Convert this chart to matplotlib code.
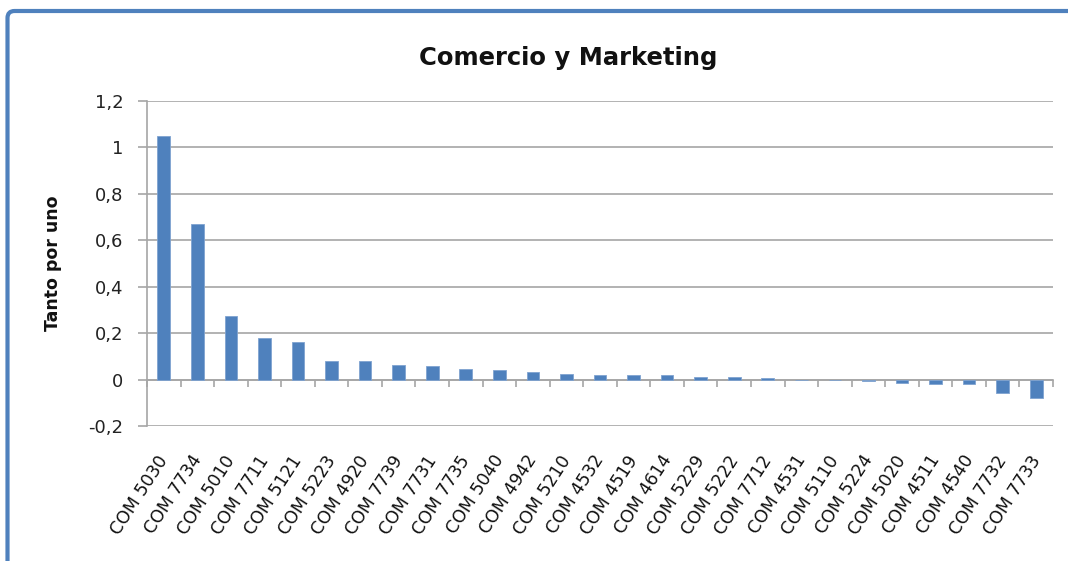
import matplotlib
matplotlib.use("Agg")
import matplotlib.pyplot as plt
from matplotlib.path import Path
from matplotlib.patches import PathPatch
from matplotlib.transforms import ScaledTranslation
import numpy as np

plt.rcParams['font.family'] = ['DejaVu Sans']

title = "Comercio y Marketing"
ylabel = "Tanto por uno"
categories = ["COM 5030", "COM 7734", "COM 5010", "COM 7711", "COM 5121", "COM 5223",
              "COM 4920", "COM 7739", "COM 7731", "COM 7735", "COM 5040", "COM 4942",
              "COM 5210", "COM 4532", "COM 4519", "COM 4614", "COM 5229", "COM 5222",
              "COM 7712", "COM 4531", "COM 5110", "COM 5224", "COM 5020", "COM 4511",
              "COM 4540", "COM 7732", "COM 7733"]
values = [1.049, 0.671, 0.275, 0.178, 0.162, 0.082,
          0.082, 0.063, 0.057, 0.046, 0.042, 0.031,
          0.022, 0.019, 0.019, 0.019, 0.013, 0.009,
          0.008, 0.0, 0.0, -0.007, -0.013, -0.017,
          -0.017, -0.057, -0.078]
yticks = [-0.2, 0.0, 0.2, 0.4, 0.6, 0.8, 1.0, 1.2]
yticklabels = ["-0,2", "0", "0,2", "0,4", "0,6", "0,8", "1", "1,2"]

BLUE = "#4F81BD"
GRID = "#A6A6A6"
W, H = 1068, 561

fig = plt.figure(figsize=(W / 100, H / 100), dpi=100)
fig.patch.set_facecolor("white")

# chart border: only top and left edges visible, with a rounded corner
r = 7.0
bx, by = 7.5, 11.0
verts = [(bx / W, -0.05),
         (bx / W, 1 - (by + r) / H),
         (bx / W, 1 - by / H),
         ((bx + r) / W, 1 - by / H),
         (1.05, 1 - by / H)]
codes = [Path.MOVETO, Path.LINETO, Path.CURVE3, Path.CURVE3, Path.LINETO]
fig.patches.append(PathPatch(Path(verts, codes), transform=fig.transFigure,
                             fill=False, edgecolor=BLUE, linewidth=3.0,
                             capstyle="butt", joinstyle="round", zorder=10))

ax = fig.add_axes([147 / W, 135 / H, 906 / W, 325 / H])
x = np.arange(len(categories))
ax.bar(x, values, width=0.38, color=BLUE, edgecolor="#7FA3D0", linewidth=0.6, zorder=3)

ax.set_xlim(-0.5, len(categories) - 0.5)
ax.set_ylim(-0.2, 1.2)
ax.set_yticks(yticks)
ax.set_yticklabels(yticklabels)
ax.yaxis.grid(True, color=GRID, linewidth=1.2, zorder=0)
ax.set_axisbelow(True)

for s in ("top", "right"):
    ax.spines[s].set_visible(False)
ax.spines["left"].set_color(GRID)
ax.spines["left"].set_linewidth(1.2)
ax.spines["bottom"].set_position(("data", 0))
ax.spines["bottom"].set_color(GRID)
ax.spines["bottom"].set_linewidth(1.2)

ax.tick_params(axis="y", direction="out", length=6.5, width=1.2, color=GRID,
               pad=10.5, labelsize=13, labelcolor="#222222")
ax.set_xticks(np.arange(-0.5, len(categories), 1.0))
ax.tick_params(axis="x", direction="out", length=5, width=1.2, color=GRID,
               labelbottom=False)

offset = ScaledTranslation(8 / 100, -26 / 100, fig.dpi_scale_trans)
for i, lab in enumerate(categories):
    ax.text(i, -0.2, lab, rotation=57, ha="right", va="top", fontsize=12.5,
            color="#111111", transform=ax.transData + offset, clip_on=False)

fig.text(568 / W, 1 - 58 / H, title, ha="center", va="center",
         fontsize=17.5, fontweight="bold", color="#111111")
fig.text(53 / W, 1 - 263 / H, ylabel, rotation=90, ha="center", va="center",
         fontsize=12.5, fontweight="bold", color="#111111")

fig.savefig("out.png", dpi=100, facecolor="white")
